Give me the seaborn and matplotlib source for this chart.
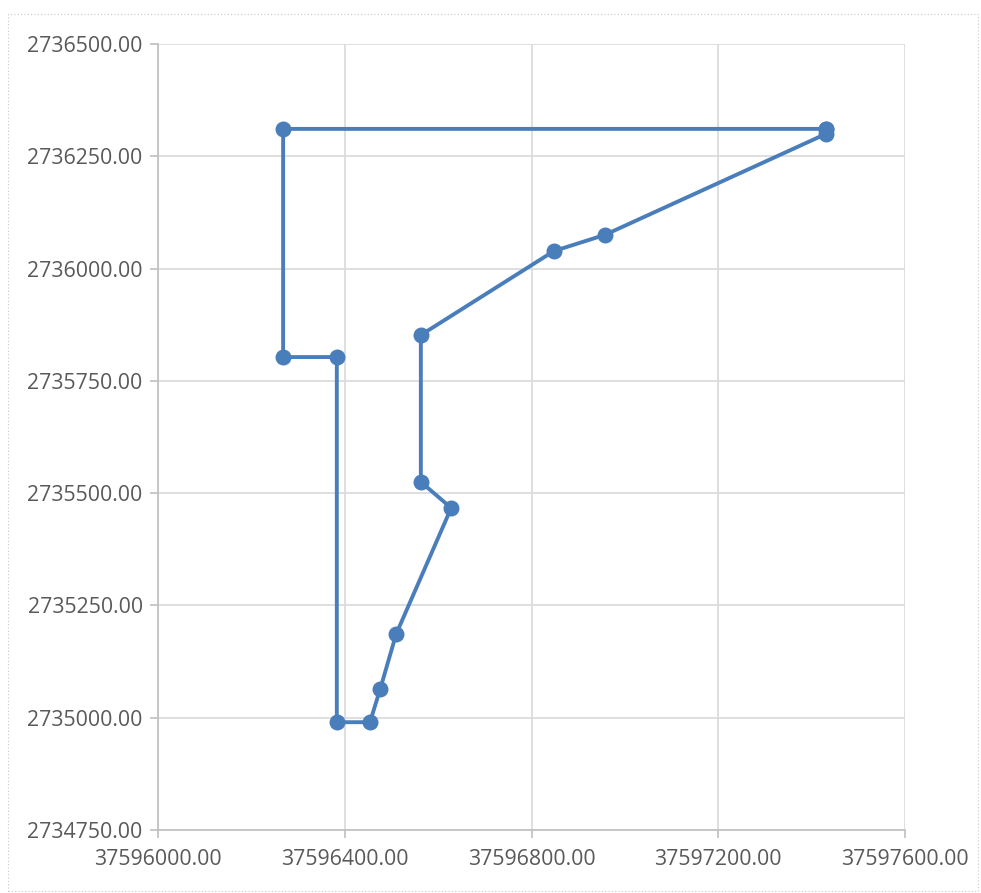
import matplotlib
matplotlib.use("Agg")
import matplotlib.pyplot as plt
import matplotlib.patches as mpatches
from matplotlib.ticker import FuncFormatter, MultipleLocator
import seaborn as sns
import pandas as pd

x_vals = [37597431, 37597431, 37596957, 37596848, 37596563, 37596563, 37596628,
          37596510, 37596476, 37596454, 37596383, 37596383, 37596268, 37596268, 37597431]
y_vals = [2736311, 2736300, 2736075, 2736039, 2735852, 2735525, 2735467,
          2735186, 2735064, 2734990, 2734990, 2735803, 2735803, 2736311, 2736311]

df = pd.DataFrame({"x": x_vals, "y": y_vals, "order": range(len(x_vals))})

sns.set_theme(style="white")
plt.rcParams['font.family'] = ['Open Sans', 'DejaVu Sans']

fig = plt.figure(figsize=(9.81, 8.93), dpi=100)
ax = fig.add_axes([158/981, 63/893, 747/981, 786/893])

color = "#4a7ebb"
sns.lineplot(data=df, x="x", y="y", sort=False, estimator=None, ax=ax,
             color=color, linewidth=2.8, marker="o", markersize=11.5,
             markeredgewidth=0, markerfacecolor=color)

ax.set_xlim(37596000, 37597600)
ax.set_ylim(2734750, 2736500)
ax.xaxis.set_major_locator(MultipleLocator(400))
ax.yaxis.set_major_locator(MultipleLocator(250))
fmt = FuncFormatter(lambda v, p: f"{v:.2f}")
ax.xaxis.set_major_formatter(fmt)
ax.yaxis.set_major_formatter(fmt)

ax.grid(True, color="#d9d9d9", linewidth=1.2)
ax.set_axisbelow(True)
for s in ["top", "right"]:
    ax.spines[s].set_visible(False)
for s in ["left", "bottom"]:
    ax.spines[s].set_color("#bfbfbf")
    ax.spines[s].set_linewidth(1.2)
ax.tick_params(axis="both", which="major", direction="out", length=6, width=1.2,
               color="#bfbfbf", labelsize=15.3, labelcolor="#595959",
               bottom=True, left=True)
ax.tick_params(axis="x", pad=8)
ax.tick_params(axis="y", pad=5)
ax.set_xlabel("")
ax.set_ylabel("")

fig.patches.append(mpatches.Rectangle((8/981, 2/893), 970/981, 877/893,
                                      transform=fig.transFigure, fill=False,
                                      edgecolor="#c8c8c8", linestyle=(0, (1, 2)),
                                      linewidth=0.8))

fig.savefig("out.png", dpi=100)
